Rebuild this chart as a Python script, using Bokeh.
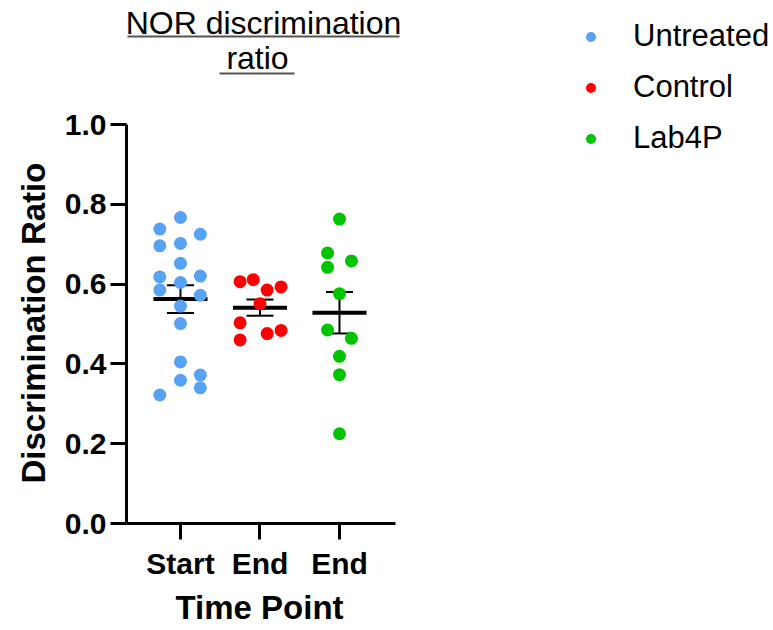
import numpy as np
from bokeh.plotting import figure
from bokeh.models import (Range1d, FixedTicker, PrintfTickFormatter, Legend, LegendItem,
                          Label, BoxAnnotation, ColumnDataSource, Title)
from bokeh.embed import file_html
from bokeh.resources import INLINE

# ---------------- data ----------------
groups = ["Untreated", "Control", "Lab4P"]
tick_labels = ["Start", "End", "End"]
positions = [1, 2, 3]
colors = ["#58A2F4", "#FF0000", "#00C400"]

untreated = [0.767, 0.738, 0.725, 0.696, 0.702, 0.652, 0.618, 0.620, 0.604,
             0.585, 0.572, 0.545, 0.501, 0.405, 0.359, 0.372, 0.340, 0.322]
untreated_jitter = [0.0, -0.26, 0.25, -0.26, 0.0, 0.0, -0.26, 0.25, 0.0,
                    -0.26, 0.25, 0.0, 0.0, 0.0, 0.0, 0.25, 0.25, -0.26]

control = [0.606, 0.611, 0.585, 0.593, 0.551, 0.503, 0.460, 0.476, 0.484]
control_jitter = [-0.25, -0.085, 0.09, 0.265, 0.0, -0.25, -0.25, 0.09, 0.265]

lab4p = [0.763, 0.678, 0.658, 0.642, 0.576, 0.485, 0.464, 0.419, 0.373, 0.225]
lab4p_jitter = [0.0, -0.15, 0.15, -0.15, 0.0, -0.15, 0.15, 0.0, 0.0, 0.0]

values = [untreated, control, lab4p]
jitters = [untreated_jitter, control_jitter, lab4p_jitter]

y_ticks = [0.0, 0.2, 0.4, 0.6, 0.8, 1.0]
y_axis_bounds = (0.0, 1.0)

FONT = "Liberation Sans"

# layout: the frame covers the whole area above/right of the axes so that
# the title, underlines and legend (drawn in the frame) are not clipped.
x_lo, x_axis_end, x_hi = 0.321, 3.705, 8.459
y_hi = 1.3108

p = figure(width=773, height=630, output_backend="svg", toolbar_location=None,
           x_range=Range1d(x_lo, x_hi), y_range=Range1d(0, y_hi),
           min_border_left=126, min_border_right=0, min_border_top=0,
           min_border_bottom=107)
p.outline_line_color = None
p.grid.visible = False
p.background_fill_color = "white"
p.border_fill_color = "white"

# mean and SEM bars
mean_half = 0.34
cap_half = 0.17
for pos, vals in zip(positions, values):
    arr = np.array(vals)
    m = arr.mean()
    sem = arr.std(ddof=1) / np.sqrt(len(arr))
    p.segment(x0=[pos], x1=[pos], y0=[m - sem], y1=[m + sem], line_color="black", line_width=2)
    p.segment(x0=[pos - cap_half, pos - cap_half], x1=[pos + cap_half, pos + cap_half],
              y0=[m - sem, m + sem], y1=[m - sem, m + sem], line_color="black", line_width=2)
    p.segment(x0=[pos - mean_half], x1=[pos + mean_half], y0=[m], y1=[m],
              line_color="black", line_width=4)

# points
renderers = []
for pos, vals, jit, col in zip(positions, values, jitters, colors):
    src = ColumnDataSource(dict(x=[pos + j for j in jit], y=vals))
    r = p.scatter("x", "y", source=src, size=13, fill_color=col, line_color=col, line_width=0)
    renderers.append(r)

legend = Legend(items=[LegendItem(label=g, renderers=[r]) for g, r in zip(groups, renderers)],
                location=(452, 367), orientation="vertical",
                padding=0, margin=0, spacing=15, glyph_width=25, glyph_height=25,
                label_height=33, label_standoff=30,
                label_text_font=FONT, label_text_font_size="31px", label_text_color="black",
                border_line_alpha=0, background_fill_alpha=0)
p.add_layout(legend, "center")

# axes
p.yaxis.ticker = FixedTicker(ticks=y_ticks)
p.yaxis.formatter = PrintfTickFormatter(format="%.1f")
p.yaxis.bounds = y_axis_bounds
p.xaxis.ticker = FixedTicker(ticks=positions)
p.xaxis.major_label_overrides = {pos: lab for pos, lab in zip(positions, tick_labels)}
p.xaxis.bounds = (x_lo, x_axis_end)
for ax in (p.xaxis[0], p.yaxis[0]):
    ax.axis_line_width = 3
    ax.axis_line_color = "black"
    ax.major_tick_line_width = 3
    ax.major_tick_line_color = "black"
    ax.major_tick_in = 0
    ax.major_tick_out = 16
    ax.minor_tick_line_color = None
    ax.major_label_text_font = FONT
    ax.major_label_text_font_style = "bold"
    ax.major_label_text_font_size = "30px"
    ax.major_label_text_color = "black"
p.yaxis.major_label_standoff = 4
p.xaxis.major_label_standoff = 7

# axis titles (as side-panel titles so they can be placed next to the bounded axes)
axis_title_kw = dict(text_font=FONT, text_font_style="bold", text_font_size="33px",
                     text_color="black", align="left", vertical_align="bottom")
p.add_layout(Title(text="Discrimination Ratio", offset=40, standoff=20, **axis_title_kw), "left")
p.add_layout(Title(text="Time Point", offset=49, standoff=8, **axis_title_kw), "below")

# title (two underlined lines)
title_kw = dict(x_units="screen", y_units="screen", text_align="center",
                text_baseline="alphabetic", text_font=FONT, text_font_size="32px",
                text_color="black")
p.add_layout(Label(x=137, y=501, text="NOR discrimination", **title_kw))
p.add_layout(Label(x=131, y=466, text="ratio", **title_kw))
ul_kw = dict(left_units="screen", right_units="screen", bottom_units="screen",
             top_units="screen", fill_color="#555555", fill_alpha=1, line_alpha=0)
p.add_layout(BoxAnnotation(left=1, right=273, bottom=486, top=488, **ul_kw))
p.add_layout(BoxAnnotation(left=93, right=168, bottom=449, top=451, **ul_kw))

open("out.html", "w").write(file_html(p, INLINE))
